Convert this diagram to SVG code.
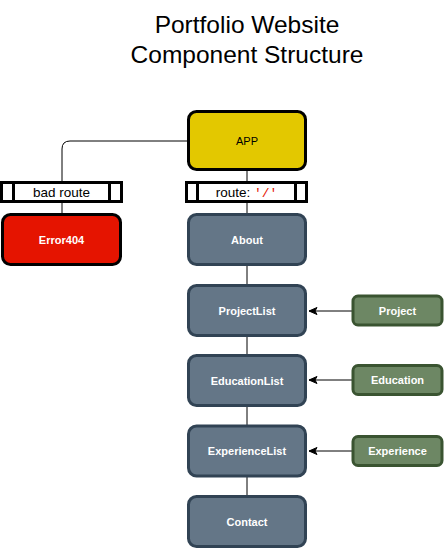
<svg xmlns="http://www.w3.org/2000/svg" width="444" height="548" viewBox="0 0 444 548">
<style>
  .t{font-family:"Liberation Sans",Arial,Helvetica,sans-serif;text-anchor:middle}
  .title{font-size:24.5px;fill:#000}
  .lbl{font-size:11px;font-weight:bold;fill:#ffffff}
  .blue{fill:#647687;stroke:#314354;stroke-width:3}
  .green{fill:#6d8764;stroke:#3a5431;stroke-width:3}
  .proc{fill:#ffffff;stroke:#000;stroke-width:3}
  .edge{fill:none;stroke:#000;stroke-width:1}
</style>
<defs>
  <marker id="arr" markerWidth="10" markerHeight="10" refX="9" refY="5" orient="auto" markerUnits="userSpaceOnUse">
    <path d="M1,1.5 L9,5 L1,8.5 L3,5 Z" fill="#000" stroke="#000" stroke-width="1"/>
  </marker>
</defs>
<rect width="444" height="548" fill="#ffffff"/>
<text class="t title" x="247" y="33">Portfolio Website</text>
<text class="t title" x="247" y="63">Component Structure</text>

<g id="connectors">
  <path class="edge" d="M187,141 L70,141 Q62,141 62,149 L62,182"/>
  <path class="edge" d="M62,202 L62,214"/>
  <path class="edge" d="M247,171 L247,182"/>
  <path class="edge" d="M247,202 L247,214"/>
  <path class="edge" d="M247,265 L247,285"/>
  <path class="edge" d="M247,336 L247,355"/>
  <path class="edge" d="M247,406 L247,426"/>
  <path class="edge" d="M247,476 L247,496"/>
  <path class="edge" d="M352,311 L309,311" marker-end="url(#arr)"/>
  <path class="edge" d="M352,380 L309,380" marker-end="url(#arr)"/>
  <path class="edge" d="M352,451 L309,451" marker-end="url(#arr)"/>
</g>

<g id="app">
  <rect x="188.5" y="111.5" width="117" height="58" rx="8" fill="#e3c800" stroke="#000" stroke-width="3"/>
  <text class="t" x="247" y="145" font-size="11" fill="#000">APP</text>
</g>

<g id="badroute">
  <rect class="proc" x="1.5" y="182.5" width="120" height="19"/>
  <line x1="13.5" y1="182.5" x2="13.5" y2="201.5" stroke="#000" stroke-width="3"/>
  <line x1="109.5" y1="182.5" x2="109.5" y2="201.5" stroke="#000" stroke-width="3"/>
  <text class="t" x="61.5" y="197" font-size="13.5" fill="#000">bad route</text>
</g>

<g id="route">
  <rect class="proc" x="186.5" y="182.5" width="120" height="19"/>
  <line x1="197.5" y1="182.5" x2="197.5" y2="201.5" stroke="#000" stroke-width="3"/>
  <line x1="295.5" y1="182.5" x2="295.5" y2="201.5" stroke="#000" stroke-width="3"/>
  <text class="t" x="246.5" y="197" font-size="13.5" fill="#000">route: <tspan fill="#e51400" font-family="'Liberation Mono','DejaVu Sans Mono',monospace" font-size="13">'/'</tspan></text>
</g>

<g id="error404">
  <rect x="2.5" y="214.5" width="118" height="50" rx="8" fill="#e51400" stroke="#000" stroke-width="3"/>
  <text class="t lbl" x="61.5" y="243.5">Error404</text>
</g>

<g id="about">
  <rect class="blue" x="188.5" y="214.5" width="117" height="50" rx="8"/>
  <text class="t lbl" x="247" y="243.5">About</text>
</g>

<g id="projectlist">
  <rect class="blue" x="188.5" y="285.5" width="117" height="50" rx="8"/>
  <text class="t lbl" x="247" y="314.5">ProjectList</text>
</g>

<g id="educationlist">
  <rect class="blue" x="188.5" y="355.5" width="117" height="50" rx="8"/>
  <text class="t lbl" x="247" y="384.5">EducationList</text>
</g>

<g id="experiencelist">
  <rect class="blue" x="188.5" y="426" width="117" height="50" rx="8"/>
  <text class="t lbl" x="247" y="455">ExperienceList</text>
</g>

<g id="contact">
  <rect class="blue" x="188.5" y="496.5" width="117" height="50" rx="8"/>
  <text class="t lbl" x="247" y="525.5">Contact</text>
</g>

<g id="project">
  <rect class="green" x="353" y="296" width="89" height="29" rx="5"/>
  <text class="t lbl" x="397.5" y="314.5">Project</text>
</g>

<g id="education">
  <rect class="green" x="353" y="365.5" width="89" height="29" rx="5"/>
  <text class="t lbl" x="397.5" y="384">Education</text>
</g>

<g id="experience">
  <rect class="green" x="353" y="436.5" width="89" height="29" rx="5"/>
  <text class="t lbl" x="397.5" y="455">Experience</text>
</g>
</svg>
